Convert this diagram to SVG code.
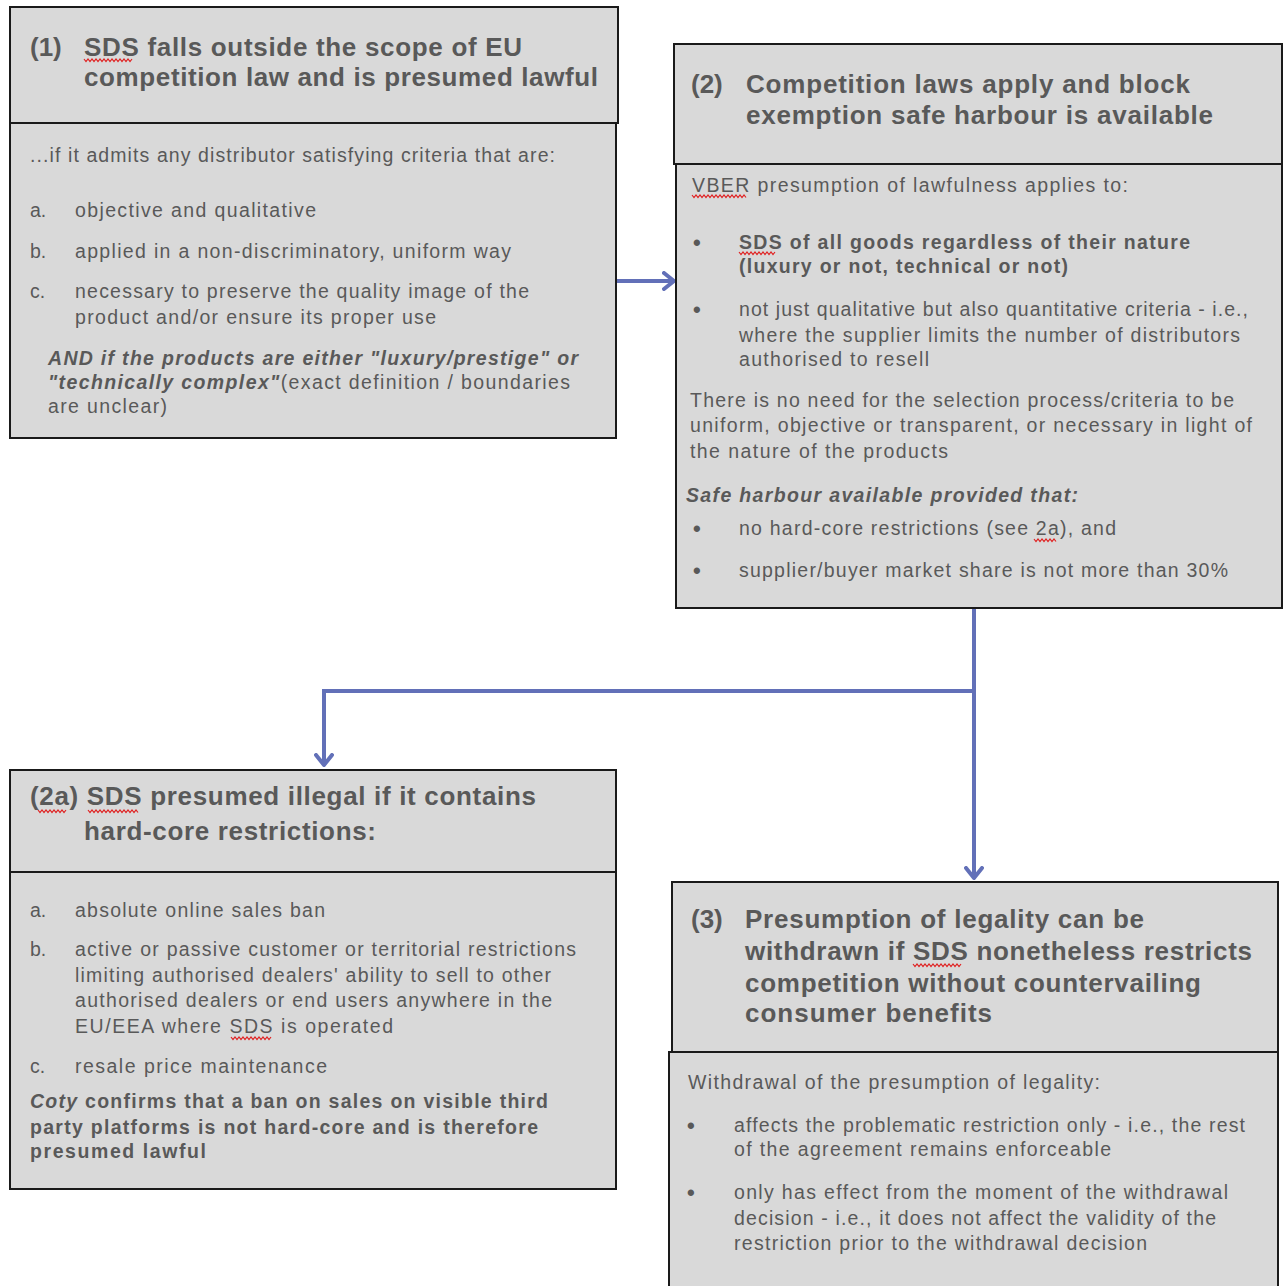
<svg xmlns="http://www.w3.org/2000/svg" width="1283" height="1286" viewBox="0 0 1283 1286">
<style>
.box{fill:#d9d9d9;stroke:#1a1a1a;stroke-width:2}
.h{font-family:"Liberation Sans",Arial,sans-serif;font-weight:bold;font-size:26px;fill:#595959}
.t{font-family:"Liberation Sans",Arial,sans-serif;font-size:19.5px;fill:#595959}
.b{font-weight:bold}
.i{font-style:italic}
.bul{font-family:"Liberation Sans",Arial,sans-serif;font-size:22px;font-weight:bold;fill:#595959}
.conn{fill:none;stroke:#6270b8;stroke-width:4}
.sq{fill:none;stroke:#e02020;stroke-width:1.2}
</style>
<defs>
<marker id="arr" viewBox="0 0 14 20" refX="12" refY="10" markerWidth="14" markerHeight="20" markerUnits="userSpaceOnUse" orient="auto">
<path d="M2,2 L12,10 L2,18" fill="none" stroke="#6270b8" stroke-width="4" stroke-linecap="round" stroke-linejoin="round"/>
</marker>
</defs>
<rect width="1283" height="1286" fill="#ffffff"/>
<g id="connectors">
<path class="conn" d="M616,281 L674,281" marker-end="url(#arr)"/>
<path class="conn" d="M974,608 L974,878" marker-end="url(#arr)"/>
<path class="conn" d="M974,691 L324,691 L324,765" marker-end="url(#arr)"/>
</g>
<g id="node1">
<rect class="box" x="10" y="7" width="608" height="116"/>
<rect class="box" x="10" y="123" width="606" height="315"/>
<text class="h" x="30" y="56">(1)</text>
<text class="h" x="84" y="56" textLength="438">SDS falls outside the scope of EU</text>
<text class="h" x="84" y="86" textLength="514">competition law and is presumed lawful</text>
<path class="sq" d="M84,59 l2,2.5 l2,-2.5 l2,2.5 l2,-2.5 l2,2.5 l2,-2.5 l2,2.5 l2,-2.5 l2,2.5 l2,-2.5 l2,2.5 l2,-2.5 l2,2.5 l2,-2.5 l2,2.5 l2,-2.5 l2,2.5 l2,-2.5 l2,2.5 l2,-2.5 l2,2.5 l2,-2.5 l2,2.5 l2,-2.5"/>
<text class="t" x="30" y="162" textLength="525">...if it admits any distributor satisfying criteria that are:</text>
<text class="t" x="30" y="217">a.</text>
<text class="t" x="75" y="217" textLength="241">objective and qualitative</text>
<text class="t" x="30" y="258">b.</text>
<text class="t" x="75" y="258" textLength="436">applied in a non-discriminatory, uniform way</text>
<text class="t" x="30" y="298">c.</text>
<text class="t" x="75" y="298" textLength="454">necessary to preserve the quality image of the</text>
<text class="t" x="75" y="324" textLength="361">product and/or ensure its proper use</text>
<text class="t b i" x="48" y="365" textLength="530">AND if the products are either "luxury/prestige" or</text>
<text class="t" x="48" y="389" textLength="522"><tspan class="b i">"technically complex"</tspan>(exact definition / boundaries</text>
<text class="t" x="48" y="413" textLength="119">are unclear)</text>
</g>
<g id="node2">
<rect class="box" x="674" y="44" width="608" height="120"/>
<rect class="box" x="676" y="164" width="606" height="444"/>
<text class="h" x="691" y="93">(2)</text>
<text class="h" x="746" y="93" textLength="444">Competition laws apply and block</text>
<text class="h" x="746" y="124" textLength="467">exemption safe harbour is available</text>
<text class="t" x="692" y="192" textLength="436">VBER presumption of lawfulness applies to:</text>
<path class="sq" d="M692,195 l2,2.5 l2,-2.5 l2,2.5 l2,-2.5 l2,2.5 l2,-2.5 l2,2.5 l2,-2.5 l2,2.5 l2,-2.5 l2,2.5 l2,-2.5 l2,2.5 l2,-2.5 l2,2.5 l2,-2.5 l2,2.5 l2,-2.5 l2,2.5 l2,-2.5 l2,2.5 l2,-2.5 l2,2.5 l2,-2.5 l2,2.5 l2,-2.5 l2,2.5"/>
<text class="bul" x="693" y="250">•</text>
<text class="t b" x="739" y="249" textLength="451">SDS of all goods regardless of their nature</text>
<path class="sq" d="M739,252 l2,2.5 l2,-2.5 l2,2.5 l2,-2.5 l2,2.5 l2,-2.5 l2,2.5 l2,-2.5 l2,2.5 l2,-2.5 l2,2.5 l2,-2.5 l2,2.5 l2,-2.5 l2,2.5 l2,-2.5 l2,2.5 l2,-2.5"/>
<text class="t b" x="739" y="273" textLength="329">(luxury or not, technical or not)</text>
<text class="bul" x="693" y="317">•</text>
<text class="t" x="739" y="316" textLength="509">not just qualitative but also quantitative criteria - i.e.,</text>
<text class="t" x="739" y="342" textLength="501">where the supplier limits the number of distributors</text>
<text class="t" x="739" y="366" textLength="190">authorised to resell</text>
<text class="t" x="690" y="407" textLength="544">There is no need for the selection process/criteria to be</text>
<text class="t" x="690" y="432" textLength="562">uniform, objective or transparent, or necessary in light of</text>
<text class="t" x="690" y="458" textLength="258">the nature of the products</text>
<text class="t b i" x="686" y="502" textLength="392">Safe harbour available provided that:</text>
<text class="bul" x="693" y="536">•</text>
<text class="t" x="739" y="535" textLength="377">no hard-core restrictions (see 2a), and</text>
<path class="sq" d="M1034,539 l2,2.5 l2,-2.5 l2,2.5 l2,-2.5 l2,2.5 l2,-2.5 l2,2.5 l2,-2.5 l2,2.5 l2,-2.5 l2,2.5"/>
<text class="bul" x="693" y="578">•</text>
<text class="t" x="739" y="577" textLength="489">supplier/buyer market share is not more than 30%</text>
</g>
<g id="node2a">
<rect class="box" x="10" y="770" width="606" height="102"/>
<rect class="box" x="10" y="872" width="606" height="317"/>
<text class="h" x="30" y="805" textLength="506">(2a) SDS presumed illegal if it contains</text>
<path class="sq" d="M38,810 l2,2.5 l2,-2.5 l2,2.5 l2,-2.5 l2,2.5 l2,-2.5 l2,2.5 l2,-2.5 l2,2.5 l2,-2.5 l2,2.5 l2,-2.5 l2,2.5 l2,-2.5 M88,810 l2,2.5 l2,-2.5 l2,2.5 l2,-2.5 l2,2.5 l2,-2.5 l2,2.5 l2,-2.5 l2,2.5 l2,-2.5 l2,2.5 l2,-2.5 l2,2.5 l2,-2.5 l2,2.5 l2,-2.5 l2,2.5 l2,-2.5 l2,2.5 l2,-2.5 l2,2.5 l2,-2.5 l2,2.5 l2,-2.5 l2,2.5"/>
<text class="h" x="84" y="840" textLength="292">hard-core restrictions:</text>
<text class="t" x="30" y="917">a.</text>
<text class="t" x="75" y="917" textLength="250">absolute online sales ban</text>
<text class="t" x="30" y="956">b.</text>
<text class="t" x="75" y="956" textLength="501">active or passive customer or territorial restrictions</text>
<text class="t" x="75" y="982" textLength="476">limiting authorised dealers' ability to sell to other</text>
<text class="t" x="75" y="1007" textLength="477">authorised dealers or end users anywhere in the</text>
<text class="t" x="75" y="1033" textLength="318">EU/EEA where SDS is operated</text>
<path class="sq" d="M231,1037 l2,2.5 l2,-2.5 l2,2.5 l2,-2.5 l2,2.5 l2,-2.5 l2,2.5 l2,-2.5 l2,2.5 l2,-2.5 l2,2.5 l2,-2.5 l2,2.5 l2,-2.5 l2,2.5 l2,-2.5 l2,2.5 l2,-2.5 l2,2.5 l2,-2.5"/>
<text class="t" x="30" y="1073">c.</text>
<text class="t" x="75" y="1073" textLength="252">resale price maintenance</text>
<text class="t b" x="30" y="1108" textLength="518"><tspan class="i">Coty</tspan> confirms that a ban on sales on visible third</text>
<text class="t b" x="30" y="1134" textLength="508">party platforms is not hard-core and is therefore</text>
<text class="t b" x="30" y="1158" textLength="176">presumed lawful</text>
</g>
<g id="node3">
<rect class="box" x="672" y="882" width="606" height="170"/>
<rect class="box" x="669" y="1052" width="609" height="240"/>
<text class="h" x="691" y="928">(3)</text>
<text class="h" x="745" y="928" textLength="399">Presumption of legality can be</text>
<text class="h" x="745" y="960" textLength="507">withdrawn if SDS nonetheless restricts</text>
<path class="sq" d="M913,964 l2,2.5 l2,-2.5 l2,2.5 l2,-2.5 l2,2.5 l2,-2.5 l2,2.5 l2,-2.5 l2,2.5 l2,-2.5 l2,2.5 l2,-2.5 l2,2.5 l2,-2.5 l2,2.5 l2,-2.5 l2,2.5 l2,-2.5 l2,2.5 l2,-2.5 l2,2.5 l2,-2.5 l2,2.5 l2,-2.5"/>
<text class="h" x="745" y="992" textLength="456">competition without countervailing</text>
<text class="h" x="745" y="1022" textLength="247">consumer benefits</text>
<text class="t" x="688" y="1089" textLength="412">Withdrawal of the presumption of legality:</text>
<text class="bul" x="687" y="1133">•</text>
<text class="t" x="734" y="1132" textLength="511">affects the problematic restriction only - i.e., the rest</text>
<text class="t" x="734" y="1156" textLength="377">of the agreement remains enforceable</text>
<text class="bul" x="687" y="1200">•</text>
<text class="t" x="734" y="1199" textLength="494">only has effect from the moment of the withdrawal</text>
<text class="t" x="734" y="1225" textLength="482">decision - i.e., it does not affect the validity of the</text>
<text class="t" x="734" y="1250" textLength="413">restriction prior to the withdrawal decision</text>
</g>
</svg>
